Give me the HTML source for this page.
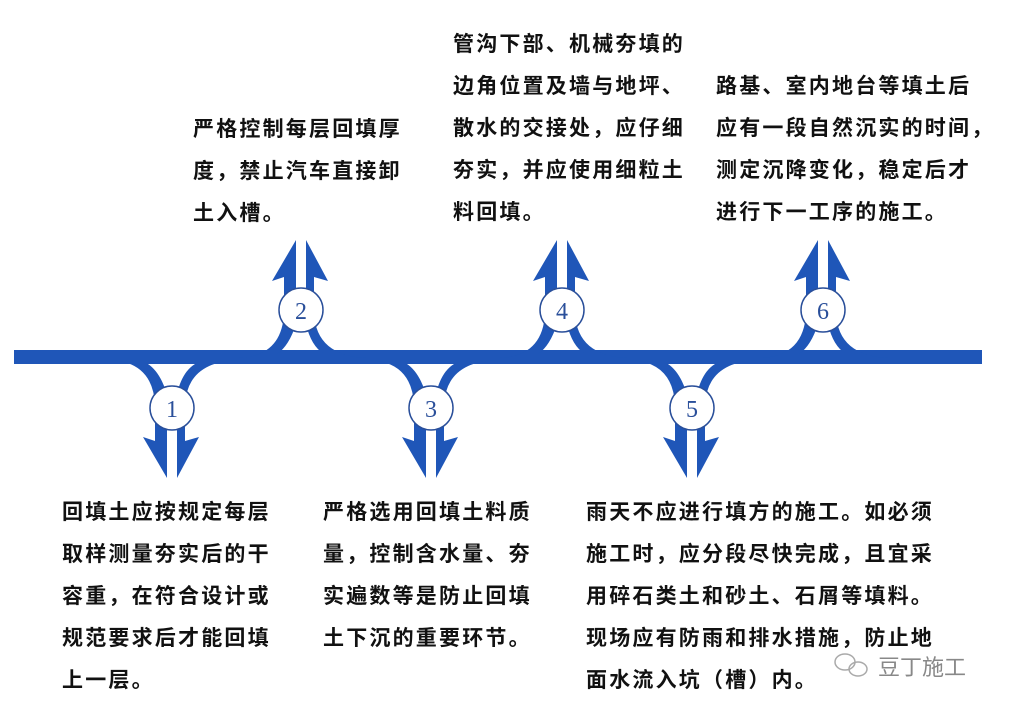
<!DOCTYPE html>
<html><head><meta charset="utf-8"><style>
html,body{margin:0;padding:0;background:#fff;}
body{width:1014px;height:711px;position:relative;overflow:hidden;font-family:"Liberation Sans","Noto Sans CJK SC",sans-serif;}
.t{position:absolute;font-weight:bold;font-size:21px;letter-spacing:2.2px;line-height:42px;color:#111;white-space:nowrap;}
svg{position:absolute;left:0;top:0;}
</style></head><body>
<svg width="1014" height="711" viewBox="0 0 1014 711">
<defs>
<g id="br">
 <path d="M-62 360 Q-19 362 -17 405 L-5 405 L-5 394 Q-12 372 -24 364 L-24 360 Z" fill="#1f56b8"/>
 <path d="M66 360 Q15 362 13 405 L5 405 L5 394 Q10 372 23 364 L23 360 Z" fill="#1f56b8"/>
 <polygon points="-17,400 -5,400 -5,478 -29,437 -17,441" fill="#1f56b8"/>
 <polygon points="13,400 5,400 5,478 27,437 13,441" fill="#1f56b8"/>
 <circle cx="0" cy="408" r="22" fill="#fff" stroke="#2a4f9a" stroke-width="1.5"/>
</g>
</defs>
<rect x="14" y="350" width="968" height="14" fill="#1f56b8"/>
<use href="#br" transform="translate(172,0)"/>
<use href="#br" transform="translate(301,718) scale(1,-1)"/>
<use href="#br" transform="translate(431,0)"/>
<use href="#br" transform="translate(562,718) scale(1,-1)"/>
<use href="#br" transform="translate(692,0)"/>
<use href="#br" transform="translate(823,718) scale(1,-1)"/>
<g font-family="Liberation Serif,serif" font-size="24" fill="#2a4f9a" text-anchor="middle">
<text x="172" y="417">1</text><text x="301" y="319">2</text><text x="431" y="417">3</text>
<text x="562" y="319">4</text><text x="692" y="417">5</text><text x="823" y="319">6</text>
</g>
<g fill="none" stroke="#aaa" stroke-width="1.5">
<ellipse cx="845" cy="662" rx="10" ry="8"/><ellipse cx="858" cy="669" rx="9" ry="7"/>
</g>
<text x="878" y="675" font-size="22" fill="#888" font-family="Liberation Sans,Noto Sans CJK SC,sans-serif">豆丁施工</text>
</svg>
<div class="t" style="left:193px;top:109px">严格控制每层回填厚<br>度，禁止汽车直接卸<br>土入槽。</div>
<div class="t" style="left:453px;top:24px">管沟下部、机械夯填的<br>边角位置及墙与地坪、<br>散水的交接处，应仔细<br>夯实，并应使用细粒土<br>料回填。</div>
<div class="t" style="left:716px;top:66px">路基、室内地台等填土后<br>应有一段自然沉实的时间，<br>测定沉降变化，稳定后才<br>进行下一工序的施工。</div>
<div class="t" style="left:62px;top:492px">回填土应按规定每层<br>取样测量夯实后的干<br>容重，在符合设计或<br>规范要求后才能回填<br>上一层。</div>
<div class="t" style="left:323px;top:492px">严格选用回填土料质<br>量，控制含水量、夯<br>实遍数等是防止回填<br>土下沉的重要环节。</div>
<div class="t" style="left:586px;top:492px">雨天不应进行填方的施工。如必须<br>施工时，应分段尽快完成，且宜采<br>用碎石类土和砂土、石屑等填料。<br>现场应有防雨和排水措施，防止地<br>面水流入坑（槽）内。</div>
</body></html>
